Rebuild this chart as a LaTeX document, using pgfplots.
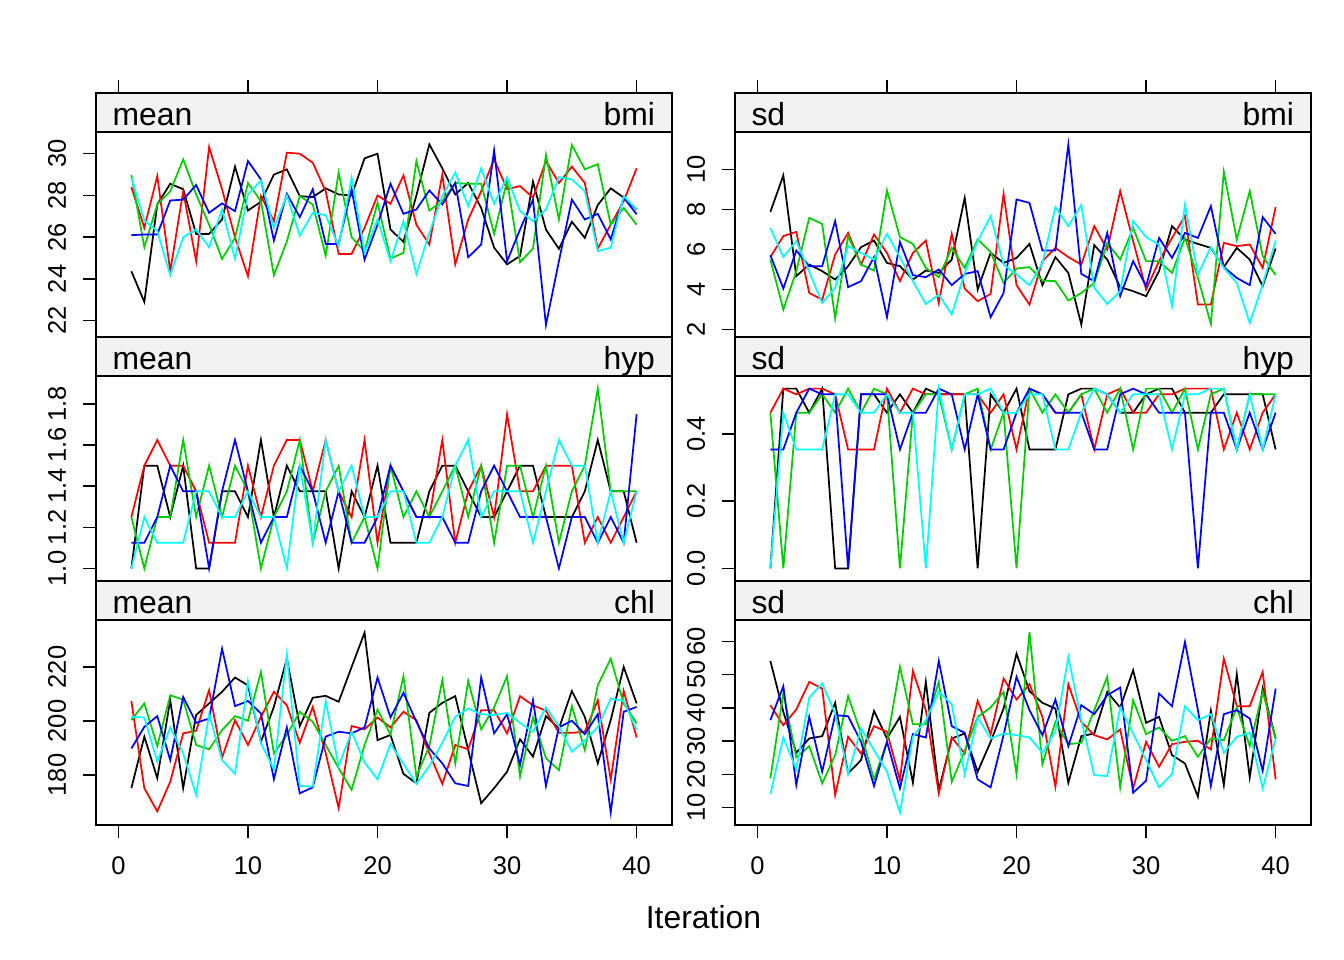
\documentclass[border=0pt]{standalone}
\usepackage{fontspec}
\setmainfont{Liberation Sans}
\usepackage{pgfplots}
\usepackage{pgfplotstable}
\pgfplotsset{compat=1.18}

\definecolor{stripgray}{gray}{0.95}
\definecolor{c1}{RGB}{0,0,0}
\definecolor{c2}{RGB}{255,0,0}
\definecolor{c3}{RGB}{0,205,0}
\definecolor{c4}{RGB}{0,0,255}
\definecolor{c5}{RGB}{0,255,255}
\newcommand\ticksize{\fontsize{9.6}{11}\selectfont}
\newcommand\stripsize{\fontsize{12}{14}\selectfont}

% columns: iteration, then chains 1..5 (black, red, green, blue, cyan)
\pgfplotstableread{
it k r g b c
1 24.37 28.40 28.98 26.10 28.85
2 22.90 26.45 25.52 26.13 26.80
3 27.57 28.93 27.57 26.13 26.30
4 28.56 24.37 28.20 27.76 24.18
5 28.30 28.20 29.73 27.80 26.00
6 26.16 24.85 28.05 28.50 26.37
7 26.16 30.32 26.60 27.17 25.52
8 26.85 28.30 24.96 27.62 27.33
9 29.38 26.00 25.97 27.25 24.96
10 27.28 24.13 28.60 29.65 28.05
11 27.70 27.97 27.73 28.77 28.72
12 29.00 26.77 24.18 25.84 26.45
13 29.25 30.05 25.80 28.08 28.00
14 27.97 30.00 27.97 26.96 26.08
15 27.92 29.57 27.57 28.30 27.17
16 28.34 28.20 25.12 25.68 27.06
17 28.05 25.20 29.10 25.68 25.57
18 28.00 25.20 26.00 28.30 28.85
19 29.78 26.45 25.33 24.93 25.25
20 30.00 28.00 27.65 26.60 26.85
21 26.37 27.60 24.98 28.56 24.85
22 25.78 28.96 25.25 27.12 26.77
23 28.00 26.60 29.65 27.33 24.24
24 30.45 25.65 27.28 28.24 26.20
25 29.30 29.00 27.73 27.57 27.97
26 28.05 24.70 28.60 28.60 29.10
27 28.60 26.85 28.56 25.04 27.49
28 27.40 28.20 28.56 25.65 29.30
29 25.50 29.73 26.16 30.16 27.60
30 24.70 28.30 28.70 24.85 28.88
31 25.10 28.45 24.80 26.37 27.25
32 28.66 27.90 25.46 27.80 26.77
33 26.37 29.65 29.94 21.80 27.33
34 25.44 28.60 26.85 24.85 28.88
35 26.74 29.38 30.42 27.80 28.77
36 25.97 28.60 29.25 26.85 28.20
37 27.54 25.46 29.50 27.12 25.33
38 28.34 26.60 26.60 25.90 25.50
39 27.90 27.73 27.40 27.90 27.97
40 27.33 29.30 26.60 27.10 27.33
}\bmimean

\pgfplotstableread{
it k r g b c
1 7.88 5.62 5.50 5.72 7.08
2 9.70 6.67 3.00 4.05 5.62
3 4.67 6.88 4.92 5.95 6.42
4 5.25 3.83 7.58 5.17 4.88
5 4.92 3.50 7.28 5.17 3.33
6 4.50 5.75 2.55 7.42 4.08
7 5.17 6.83 6.67 4.12 6.17
8 6.12 5.25 5.25 4.42 5.83
9 6.45 6.75 4.95 5.62 5.50
10 5.33 5.83 8.95 2.62 6.78
11 5.17 4.42 6.62 6.38 5.62
12 4.50 5.83 6.28 4.72 4.42
13 4.95 6.45 5.08 4.62 3.28
14 4.83 3.33 4.62 5.00 3.75
15 5.50 6.78 6.08 4.22 2.75
16 8.58 4.05 5.08 4.78 4.83
17 4.00 3.42 6.50 4.92 6.42
18 5.83 3.78 5.88 2.62 7.67
19 5.33 8.78 4.33 3.83 5.25
20 5.58 4.22 5.05 8.50 4.75
21 6.28 3.25 5.12 8.33 4.22
22 4.22 5.42 4.45 5.95 5.33
23 5.62 6.08 4.42 5.95 8.12
24 4.83 5.62 3.45 11.25 7.17
25 2.25 5.25 3.83 4.78 8.22
26 6.22 7.17 4.33 4.42 4.08
27 5.50 6.00 6.33 6.83 3.28
28 4.12 8.92 5.50 3.67 3.92
29 3.92 6.42 7.08 5.42 7.42
30 3.67 4.00 5.42 4.17 6.62
31 4.92 5.42 5.42 6.58 6.25
32 7.17 6.58 4.83 5.58 3.17
33 6.50 7.67 6.58 6.83 8.25
34 6.28 3.25 4.58 6.58 4.75
35 6.08 3.25 2.28 8.17 6.12
36 5.12 6.33 9.88 5.12 5.08
37 6.08 6.17 6.50 4.58 4.33
38 5.50 6.25 8.92 4.22 2.33
39 4.17 5.08 5.67 7.62 4.25
40 6.05 8.12 4.72 6.78 6.45
}\bmisd

\pgfplotstableread{
it k r g b c
1 1.000 1.250 1.250 1.125 1.000
2 1.500 1.500 1.000 1.125 1.250
3 1.500 1.625 1.250 1.250 1.125
4 1.250 1.500 1.250 1.500 1.125
5 1.500 1.500 1.625 1.375 1.125
6 1.000 1.375 1.250 1.375 1.375
7 1.000 1.125 1.500 1.000 1.375
8 1.375 1.125 1.250 1.375 1.250
9 1.375 1.125 1.500 1.625 1.250
10 1.250 1.500 1.375 1.375 1.375
11 1.625 1.250 1.000 1.125 1.250
12 1.250 1.500 1.250 1.250 1.250
13 1.500 1.625 1.375 1.250 1.000
14 1.375 1.625 1.625 1.500 1.500
15 1.375 1.375 1.125 1.375 1.125
16 1.375 1.625 1.375 1.125 1.625
17 1.000 1.375 1.500 1.375 1.375
18 1.375 1.250 1.125 1.125 1.500
19 1.250 1.625 1.250 1.125 1.250
20 1.500 1.125 1.000 1.250 1.250
21 1.125 1.500 1.500 1.500 1.375
22 1.125 1.375 1.250 1.375 1.375
23 1.125 1.250 1.375 1.250 1.125
24 1.375 1.250 1.250 1.250 1.125
25 1.500 1.625 1.375 1.250 1.250
26 1.500 1.125 1.500 1.125 1.500
27 1.375 1.375 1.250 1.125 1.625
28 1.250 1.500 1.500 1.375 1.250
29 1.250 1.250 1.125 1.500 1.375
30 1.375 1.750 1.500 1.375 1.375
31 1.500 1.375 1.500 1.250 1.375
32 1.500 1.375 1.250 1.250 1.125
33 1.250 1.500 1.500 1.250 1.375
34 1.250 1.500 1.125 1.000 1.625
35 1.250 1.500 1.375 1.250 1.500
36 1.375 1.125 1.500 1.250 1.500
37 1.625 1.250 1.875 1.125 1.125
38 1.375 1.125 1.375 1.250 1.375
39 1.375 1.250 1.375 1.125 1.125
40 1.125 1.375 1.375 1.750 1.375
}\hypmean

\pgfplotstableread{
it k r g b c
1 0.0000 0.4629 0.4629 0.3536 0.0000
2 0.5345 0.5345 0.0000 0.3536 0.4629
3 0.5345 0.5175 0.4629 0.4629 0.3536
4 0.4629 0.5345 0.4629 0.5345 0.3536
5 0.5345 0.5345 0.5175 0.5175 0.3536
6 0.0000 0.5175 0.4629 0.5175 0.5175
7 0.0000 0.3536 0.5345 0.0000 0.5175
8 0.5175 0.3536 0.4629 0.5175 0.4629
9 0.5175 0.3536 0.5345 0.5175 0.4629
10 0.4629 0.5345 0.5175 0.5175 0.5175
11 0.5175 0.4629 0.0000 0.3536 0.4629
12 0.4629 0.5345 0.4629 0.4629 0.4629
13 0.5345 0.5175 0.5175 0.4629 0.0000
14 0.5175 0.5175 0.5175 0.5345 0.5345
15 0.5175 0.5175 0.3536 0.5175 0.3536
16 0.5175 0.5175 0.5175 0.3536 0.5175
17 0.0000 0.5175 0.5345 0.5175 0.5175
18 0.5175 0.4629 0.3536 0.3536 0.5345
19 0.4629 0.5175 0.4629 0.3536 0.4629
20 0.5345 0.3536 0.0000 0.4629 0.4629
21 0.3536 0.5345 0.5345 0.5345 0.5175
22 0.3536 0.5175 0.4629 0.5175 0.5175
23 0.3536 0.4629 0.5175 0.4629 0.3536
24 0.5175 0.4629 0.4629 0.4629 0.3536
25 0.5345 0.5175 0.5175 0.4629 0.4629
26 0.5345 0.3536 0.5345 0.3536 0.5345
27 0.5175 0.5175 0.4629 0.3536 0.5175
28 0.4629 0.5345 0.5345 0.5175 0.4629
29 0.4629 0.4629 0.3536 0.5345 0.5175
30 0.5175 0.4629 0.5345 0.5175 0.5175
31 0.5345 0.5175 0.5345 0.4629 0.5175
32 0.5345 0.5175 0.4629 0.4629 0.3536
33 0.4629 0.5345 0.5345 0.4629 0.5175
34 0.4629 0.5345 0.3536 0.0000 0.5175
35 0.4629 0.5345 0.5175 0.4629 0.5345
36 0.5175 0.3536 0.5345 0.4629 0.5345
37 0.5175 0.4629 0.3536 0.3536 0.3536
38 0.5175 0.3536 0.5175 0.4629 0.5175
39 0.5175 0.4629 0.5175 0.3536 0.3536
40 0.3536 0.5175 0.5175 0.4629 0.5175
}\hypsd

\pgfplotstableread{
it k r g b c
1 175.1 207.4 200.3 189.8 201.5
2 194.2 175.1 206.5 197.8 201.3
3 178.8 166.5 190.7 201.8 184.9
4 207.7 177.5 209.5 185.5 197.6
5 175.1 195.4 207.9 208.9 188.0
6 202.2 196.4 191.1 199.3 172.6
7 206.5 211.4 189.5 200.9 202.5
8 210.8 186.4 196.6 226.8 185.5
9 216.1 200.3 201.8 205.5 180.4
10 213.2 191.1 200.1 207.4 214.8
11 192.3 201.5 218.2 202.8 191.7
12 205.2 210.8 188.0 178.4 182.1
13 223.1 205.8 194.8 197.6 224.7
14 198.1 191.9 203.4 173.2 175.9
15 208.6 205.2 199.7 175.4 175.7
16 209.3 188.0 191.1 194.2 207.4
17 207.1 167.7 182.5 196.0 183.3
18 220.0 198.1 174.5 195.4 196.0
19 232.7 196.9 191.1 197.6 184.6
20 192.9 201.3 204.2 216.1 178.4
21 194.8 197.6 195.0 201.3 191.5
22 180.4 203.4 216.6 210.4 184.1
23 176.9 200.3 179.4 199.7 176.7
24 203.0 188.0 190.7 189.8 183.3
25 206.7 176.7 215.1 184.3 191.9
26 209.2 191.1 184.3 176.9 201.5
27 189.2 189.5 214.8 175.9 204.6
28 169.5 204.0 196.9 216.1 202.5
29 175.1 204.0 205.0 195.4 202.2
30 181.2 195.4 216.6 202.5 203.0
31 193.2 209.2 179.4 183.7 199.3
32 186.8 205.8 201.3 207.7 196.0
33 201.8 203.8 186.2 175.9 205.0
34 197.2 195.6 181.8 197.6 198.1
35 211.1 195.6 205.5 200.1 188.6
36 201.5 196.0 189.2 195.1 192.7
37 184.3 207.7 213.2 202.5 197.8
38 200.3 178.2 223.1 166.1 208.3
39 220.0 211.1 206.5 203.4 207.4
40 206.5 193.9 199.1 205.2 196.6
}\chlmean

\pgfplotstableread{
it k r g b c
1 54.1 40.8 18.8 36.3 14.1
2 38.8 34.8 44.5 46.5 31.1
3 26.5 39.5 25.1 16.8 21.5
4 30.8 47.8 28.5 37.3 43.1
5 31.5 45.8 17.3 20.8 47.3
6 41.5 13.8 25.8 37.8 38.3
7 20.3 31.3 43.5 37.5 20.1
8 24.3 26.3 32.3 29.8 33.8
9 39.1 34.5 18.5 16.5 27.3
10 30.8 32.8 29.8 29.8 20.8
11 37.3 18.3 52.3 15.8 8.5
12 17.5 51.1 35.1 32.1 31.3
13 47.8 39.3 35.1 31.1 36.3
14 15.3 14.3 47.8 54.1 44.8
15 30.8 31.1 17.8 34.5 41.1
16 32.3 26.3 27.1 32.5 20.1
17 20.8 42.1 37.3 18.5 37.1
18 29.8 32.1 40.1 16.1 30.8
19 39.8 48.8 44.8 31.8 32.3
20 56.3 42.5 20.1 49.3 31.8
21 45.0 47.1 62.8 39.3 31.1
22 41.5 37.3 23.1 31.8 26.5
23 39.8 16.3 35.8 42.5 33.0
24 17.5 47.1 29.1 28.5 55.3
25 31.5 35.8 29.5 40.8 36.3
26 32.3 31.8 39.3 38.1 19.8
27 44.8 30.5 49.3 43.8 19.5
28 40.1 33.5 16.1 46.1 40.1
29 51.3 15.8 42.3 14.5 32.3
30 35.5 29.8 32.1 18.1 24.3
31 37.3 22.3 34.1 44.3 16.1
32 25.8 29.1 30.1 40.5 20.1
33 23.3 29.8 31.5 59.8 40.5
34 13.3 30.1 25.3 39.3 36.3
35 39.1 27.5 30.8 16.5 38.1
36 16.8 54.8 30.3 38.1 26.5
37 50.1 40.5 40.1 39.3 31.3
38 19.1 40.5 28.5 36.8 32.5
39 45.8 50.8 44.8 21.1 15.8
40 30.8 18.5 30.8 45.8 30.8
}\chlsd

\pgfplotsset{
  lk/.style={c1, line width=0.65bp},
  lr/.style={c2, line width=0.65bp},
  lg/.style={c3, line width=0.65bp},
  lb/.style={c4, line width=0.65bp},
  lc/.style={c5, line width=0.65bp},
  panel/.style={
    scale only axis, width=216bp, height=76.875bp, anchor=north west,
    xmin=-1.73, xmax=42.73,
    axis line style={line width=0.55bp},
    tick style={black, line width=0.55bp},
    tick align=outside, major tick length=4.9bp,
    ytick pos=left, xtick=\empty,
    yticklabel style={rotate=90, anchor=center, font=\ticksize},
    yticklabel shift=9.7bp,
    xticklabel style={anchor=center, font=\ticksize},
    xticklabel shift=10.5bp,
  },
  bottompanel/.style={panel, xtick={0,10,20,30,40}, xticklabels={0,10,20,30,40}, xtick pos=left},
  strip/.style={
    scale only axis, width=216bp, height=14.625bp, anchor=north west,
    xmin=-1.73, xmax=42.73, ymin=0, ymax=1,
    xtick=\empty, ytick=\empty,
    axis background/.style={fill=stripgray},
    axis line style={line width=0.55bp},
  },
  % the top row of strips carries the upper x ticks, without numbers
  topstrip/.style={strip, xtick={0,10,20,30,40}, xtick pos=right,
    xticklabels={,,,,}, xticklabel style={text opacity=0},
    tick align=outside, major tick length=4.9bp, tick style={black, line width=0.55bp}},
}

% one strip header with the statistic on the left and the variable on the right
\newcommand\striplabels[2]{%
  \node[anchor=base west, font=\stripsize, inner sep=0pt] at (rel axis cs:0,0) [xshift=6bp, yshift=2.6bp] {#1};
  \node[anchor=base east, font=\stripsize, inner sep=0pt] at (rel axis cs:1,0) [xshift=-6.2bp, yshift=2.6bp] {#2};
}

\begin{document}
\begin{tikzpicture}
\path[use as bounding box] (0,0) rectangle (504bp,-360bp);

% ---------- bmi ----------
\begin{axis}[panel, at={(36bp,-49.5bp)}, ymin=21.22, ymax=31.04,
  ytick={22,24,26,28,30}, yticklabels={22,24,26,28,30}]
  \addplot[lk] table[x=it,y=k] {\bmimean};
  \addplot[lr] table[x=it,y=r] {\bmimean};
  \addplot[lg] table[x=it,y=g] {\bmimean};
  \addplot[lb] table[x=it,y=b] {\bmimean};
  \addplot[lc] table[x=it,y=c] {\bmimean};
\end{axis}
\begin{axis}[panel, at={(275.625bp,-49.5bp)}, ymin=1.63, ymax=11.87,
  ytick={2,4,6,8,10}, yticklabels={2,4,6,8,10}]
  \addplot[lk] table[x=it,y=k] {\bmisd};
  \addplot[lr] table[x=it,y=r] {\bmisd};
  \addplot[lg] table[x=it,y=g] {\bmisd};
  \addplot[lb] table[x=it,y=b] {\bmisd};
  \addplot[lc] table[x=it,y=c] {\bmisd};
\end{axis}

% ---------- hyp ----------
\begin{axis}[panel, at={(36bp,-141bp)}, ymin=0.939, ymax=1.936,
  ytick={1.0,1.2,1.4,1.6,1.8}, yticklabels={1.0,1.2,1.4,1.6,1.8}]
  \addplot[lk] table[x=it,y=k] {\hypmean};
  \addplot[lr] table[x=it,y=r] {\hypmean};
  \addplot[lg] table[x=it,y=g] {\hypmean};
  \addplot[lb] table[x=it,y=b] {\hypmean};
  \addplot[lc] table[x=it,y=c] {\hypmean};
\end{axis}
\begin{axis}[panel, at={(275.625bp,-141bp)}, ymin=-0.0374, ymax=0.572,
  ytick={0,0.2,0.4}, yticklabels={0.0,0.2,0.4}]
  \addplot[lk] table[x=it,y=k] {\hypsd};
  \addplot[lr] table[x=it,y=r] {\hypsd};
  \addplot[lg] table[x=it,y=g] {\hypsd};
  \addplot[lb] table[x=it,y=b] {\hypsd};
  \addplot[lc] table[x=it,y=c] {\hypsd};
\end{axis}

% ---------- chl ----------
\begin{axis}[bottompanel, at={(36bp,-232.5bp)}, ymin=161.45, ymax=237.4,
  ytick={180,200,220}, yticklabels={180,200,220}]
  \addplot[lk] table[x=it,y=k] {\chlmean};
  \addplot[lr] table[x=it,y=r] {\chlmean};
  \addplot[lg] table[x=it,y=g] {\chlmean};
  \addplot[lb] table[x=it,y=b] {\chlmean};
  \addplot[lc] table[x=it,y=c] {\chlmean};
\end{axis}
\begin{axis}[bottompanel, at={(275.625bp,-232.5bp)}, ymin=4.8, ymax=66.4,
  ytick={10,20,30,40,50,60}, yticklabels={10,20,30,40,50,60}]
  \addplot[lk] table[x=it,y=k] {\chlsd};
  \addplot[lr] table[x=it,y=r] {\chlsd};
  \addplot[lg] table[x=it,y=g] {\chlsd};
  \addplot[lb] table[x=it,y=b] {\chlsd};
  \addplot[lc] table[x=it,y=c] {\chlsd};
\end{axis}

% ---------- strip headers ----------
\begin{axis}[topstrip, at={(36bp,-34.875bp)}]
  \striplabels{mean}{bmi}
\end{axis}
\begin{axis}[topstrip, at={(275.625bp,-34.875bp)}]
  \striplabels{sd}{bmi}
\end{axis}
\begin{axis}[strip, at={(36bp,-126.375bp)}]
  \striplabels{mean}{hyp}
\end{axis}
\begin{axis}[strip, at={(275.625bp,-126.375bp)}]
  \striplabels{sd}{hyp}
\end{axis}
\begin{axis}[strip, at={(36bp,-217.875bp)}]
  \striplabels{mean}{chl}
\end{axis}
\begin{axis}[strip, at={(275.625bp,-217.875bp)}]
  \striplabels{sd}{chl}
\end{axis}

\node[anchor=base, font=\stripsize] at (263.8bp,-348bp) {Iteration};
\end{tikzpicture}
\end{document}
